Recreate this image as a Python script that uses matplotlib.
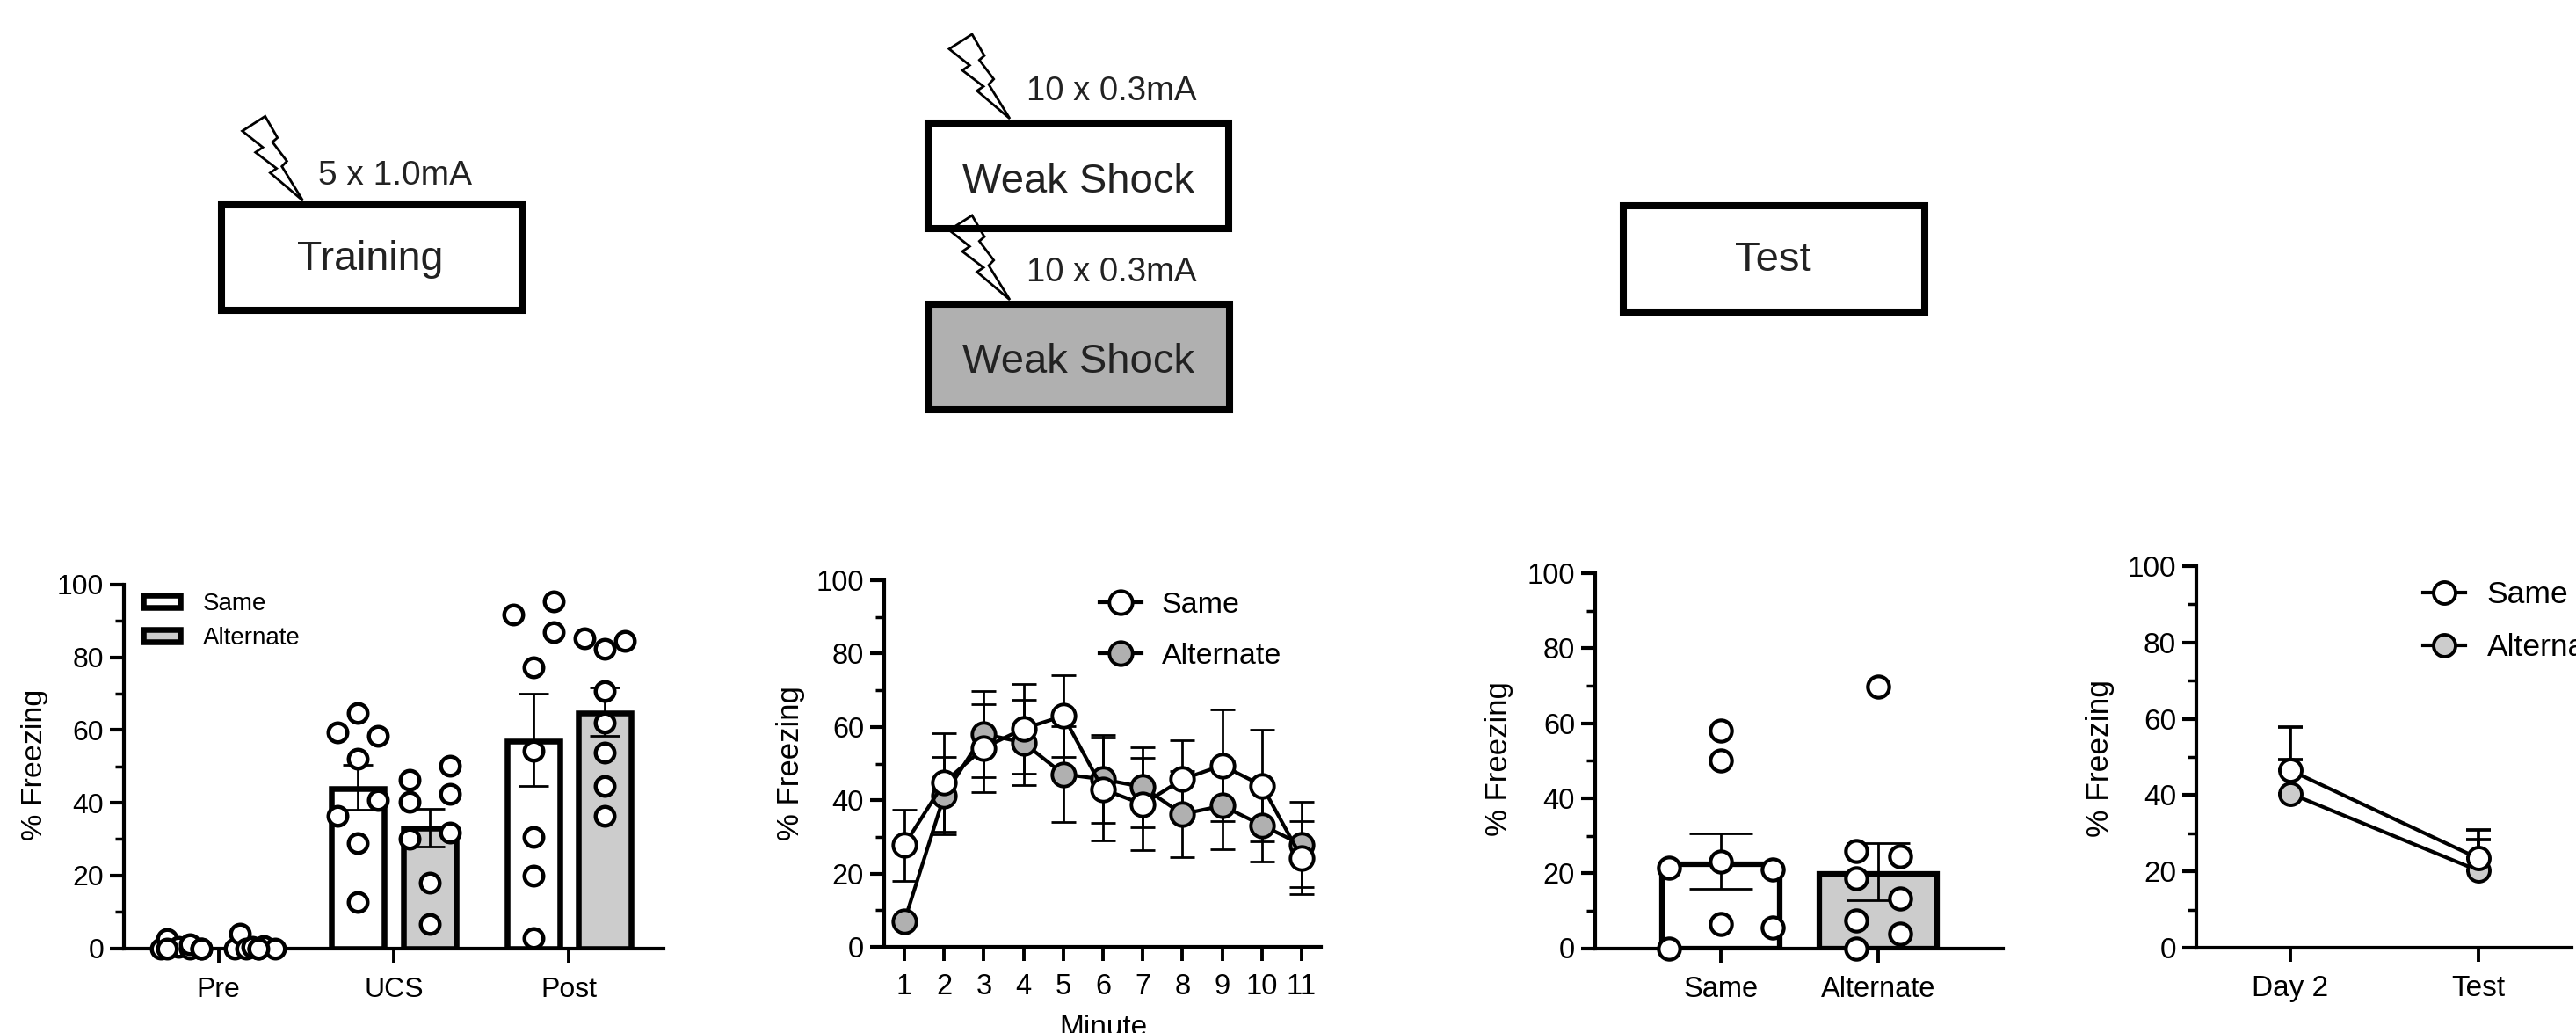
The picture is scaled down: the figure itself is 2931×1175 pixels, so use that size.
import matplotlib
matplotlib.use("Agg")
import matplotlib.pyplot as plt
from matplotlib.patches import Patch, Polygon, Rectangle

plt.rcParams["font.family"] = ["Liberation Sans", "DejaVu Sans"]

W = 2931
H = 1175

# training panel: pre / ucs / post
groups_train = ["Pre", "UCS", "Post"]
train_same_means = [0.5, 43.8, 56.9]
train_alt_means = [0.5, 32.9, 64.6]
train_same_up = [0, 50.4, 70.1]
train_same_low = [0, 38.0, 44.7]
train_alt_up = [0, 38.4, 71.6]
train_alt_low = [0, 28.0, 58.3]

pre_same = [0, 2.6, 0.4, 0, 1.0, 0, 0, 0]
pre_same_jit = [-0.125, -0.087, -0.023, 0.041, 0.041, 0.105, 0.105, -0.087]
pre_alt = [0, 3.9, 0, 0.4, 0, 0.5, 0, 0]
pre_alt_jit = [-0.11, -0.079, -0.046, -0.013, 0.026, 0.056, 0.12, 0.026]
ucs_same = [64.7, 59.3, 58.5, 52.2, 40.8, 36.3, 29.0, 12.6]
ucs_same_jit = [0, -0.115, 0.115, 0, 0.115, -0.115, 0, 0]
ucs_alt = [46.2, 50.2, 42.5, 40.2, 30.0, 31.7, 18.0, 6.7]
ucs_alt_jit = [-0.115, 0.115, 0.115, -0.115, -0.115, 0.115, 0, 0]
post_same = [91.8, 95.5, 87.0, 77.3, 54.2, 30.6, 19.9, 2.8]
post_same_jit = [-0.115, 0.115, 0.115, 0, 0, 0, 0, 0]
post_alt = [85.2, 84.6, 82.4, 70.7, 62.0, 53.8, 44.7, 36.4]
post_alt_jit = [-0.115, 0.115, 0, 0, 0, 0, 0, 0]

# weak shock panel
minutes = [1, 2, 3, 4, 5, 6, 7, 8, 9, 10, 11]
shock_same = [27.8, 44.8, 54.3, 59.5, 63.0, 43.0, 38.9, 45.7, 49.5, 44.0, 24.3]
shock_alt = [7.0, 41.2, 58.1, 55.7, 47.1, 45.7, 43.6, 36.2, 38.5, 33.2, 27.9]
shock_same_err = [9.7, 13.4, 12.0, 12.2, 11.2, 14.0, 12.6, 10.6, 15.2, 15.2, 10.0]
shock_alt_err = [0, 10.5, 11.7, 11.6, 13.0, 12.0, 10.9, 11.7, 12.0, 10.0, 11.7]

# test panel
groups_test = ["Same", "Alternate"]
test_means = [22.5, 19.8]
test_up = [30.6, 28.1]
test_low = [15.8, 12.7]
test_same = [21.4, 23.1, 21.0, 58.0, 50.1, 6.5, 5.4, 0]
test_same_jit = [-0.33, 0, 0.33, 0, 0, 0, 0.33, -0.33]
test_alt = [69.8, 26.0, 24.4, 18.7, 13.3, 7.5, 3.8, 0]
test_alt_jit = [0, -0.14, 0.14, -0.14, 0.14, -0.14, 0.14, -0.14]

# day 2 vs test panel
days = ["Day 2", "Test"]
day_same = [46.5, 23.4]
day_alt = [40.4, 20.2]
day_same_err = [11.4, 7.4]
day_alt_err = [9.0, 8.1]


def make_axes(left, top, right, bottom, xlim, ticks, labels, fs, pad):
    ax = fig.add_axes(
        [left / W, 1 - bottom / H, (right - left) / W, (bottom - top) / H]
    )
    ax.patch.set_visible(False)
    ax.set_xlim(*xlim)
    ax.set_ylim(0, 100)
    ax.spines["top"].set_visible(False)
    ax.spines["right"].set_visible(False)
    ax.spines["left"].set_linewidth(3)
    ax.spines["bottom"].set_linewidth(3)
    ax.set_xticks(ticks)
    ax.set_xticklabels(labels)
    ax.set_yticks([0, 20, 40, 60, 80, 100])
    ax.set_yticks([10, 30, 50, 70, 90], minor=True)
    ax.tick_params(axis="x", length=11.5, width=2.8, labelsize=fs, pad=pad)
    ax.tick_params(axis="y", length=11.5, width=3, labelsize=fs, pad=5)
    ax.tick_params(axis="y", which="minor", length=7, width=2.5)
    return ax


def points(ax, xs, ys, size, edge):
    ax.plot(
        xs,
        ys,
        "o",
        mfc="white",
        mec="black",
        ms=size,
        mew=edge,
        ls="none",
        clip_on=False,
        zorder=6,
    )


def bar_with_err(ax, x, mean, up, low, width, color, lw, cap):
    ax.bar(x, mean, width, color=color, edgecolor="black", linewidth=lw, zorder=2)
    ax.errorbar(
        x,
        mean,
        yerr=[[mean - low], [up - mean]],
        fmt="none",
        ecolor="black",
        elinewidth=2,
        capsize=cap,
        capthick=2,
        zorder=3,
    )


def bolt(dx, dy):
    shape_x = [80, 106, 120, 114.3, 130.7, 125, 149, 111.7, 119, 95, 103.3]
    shape_y = [35.7, 19, 43.3, 48.3, 70, 76, 115, 83.3, 78.3, 60, 54.3]
    pts = [(x + dx, y + dy) for x, y in zip(shape_x, shape_y)]
    overlay.add_patch(
        Polygon(pts, closed=True, fc="white", ec="black", lw=2, zorder=2)
    )


def box(x0, y0, x1, y1, color):
    overlay.add_patch(
        Rectangle((x0, y0), x1 - x0, y1 - y0, fc=color, ec="none", zorder=1)
    )
    overlay.add_patch(
        Rectangle((x0, y0), x1 - x0, y1 - y0, fc="none", ec="black", lw=5.8, zorder=3)
    )


fig = plt.figure(figsize=(W / 100, H / 100), dpi=100)
overlay = fig.add_axes([0, 0, 1, 1])
overlay.set_xlim(0, W)
overlay.set_ylim(H, 0)
overlay.axis("off")

# protocol boxes
bolt(195.7, 113.3)
bolt(1000, 20)
bolt(1000, 226)
box(252, 233, 594, 353, "white")
box(1056, 140, 1398, 260, "white")
box(1057, 346, 1399, 466, "#b0b0b0")
box(1847, 234, 2190, 355, "white")
box_text = "#222222"
overlay.text(421, 307, "Training", fontsize=33.5, ha="center", color=box_text, zorder=4)
overlay.text(1227, 219, "Weak Shock", fontsize=34, ha="center", color=box_text, zorder=4)
overlay.text(1227, 424, "Weak Shock", fontsize=34, ha="center", color=box_text, zorder=4)
overlay.text(2017, 308, "Test", fontsize=34, ha="center", color=box_text, zorder=4)
overlay.text(449, 210, "5 x 1.0mA", fontsize=28, ha="center", color=box_text, zorder=4)
overlay.text(1265, 114, "10 x 0.3mA", fontsize=27.5, ha="center", color=box_text, zorder=4)
overlay.text(1265, 320, "10 x 0.3mA", fontsize=27.5, ha="center", color=box_text, zorder=4)

# y labels and the clipped x label
for lx, ly, lfs in [(40, 870, 24.5), (900, 868, 25), (1706, 863, 25), (2389, 862, 25.5)]:
    overlay.text(lx, ly, "% Freezing", fontsize=lfs, rotation=90, ha="center", va="center")
overlay.text(1255, 1178, "Minute", fontsize=24, ha="center", va="baseline")

# panel 1
ax1 = make_axes(141, 665, 755, 1078.5, (0.461, 3.539), [1, 2, 3], groups_train, 23, 12)
sets_same = [pre_same, ucs_same, post_same]
sets_same_jit = [pre_same_jit, ucs_same_jit, post_same_jit]
sets_alt = [pre_alt, ucs_alt, post_alt]
sets_alt_jit = [pre_alt_jit, ucs_alt_jit, post_alt_jit]
for i in range(3):
    xs = i + 1 - 0.204
    xa = i + 1 + 0.204
    if i > 0:
        bar_with_err(ax1, xs, train_same_means[i], train_same_up[i], train_same_low[i], 0.3, "white", 4.7, 12)
        bar_with_err(ax1, xa, train_alt_means[i], train_alt_up[i], train_alt_low[i], 0.3, "#cccccc", 4.7, 12)
    points(ax1, [xs + j for j in sets_same_jit[i]], sets_same[i], 15.5, 3.2)
    points(ax1, [xa + j for j in sets_alt_jit[i]], sets_alt[i], 15.5, 3.2)
ax1.legend(
    handles=[
        Patch(fc="white", ec="black", lw=4.7, label="Same"),
        Patch(fc="#cccccc", ec="black", lw=4.7, label="Alternate"),
    ],
    loc="upper left",
    bbox_to_anchor=(163, 674),
    bbox_transform=overlay.transData,
    frameon=False,
    fontsize=20,
    borderpad=0,
    borderaxespad=0,
    handlelength=1.5,
    handleheight=0.43,
    handletextpad=0.95,
    labelspacing=0.47,
)

# panel 2
ax2 = make_axes(1006, 660, 1503, 1077, (0.491, 11.487), minutes, minutes, 23.5, 10)
for vals, errs in [(shock_alt, shock_alt_err), (shock_same, shock_same_err)]:
    ax2.errorbar(
        minutes,
        vals,
        yerr=errs,
        fmt="none",
        ecolor="black",
        elinewidth=2,
        capsize=10,
        capthick=2,
        zorder=3,
    )
line_alt, = ax2.plot(
    minutes, shock_alt, "-o", color="black", lw=3, mfc="#b0b0b0", mec="black",
    ms=19, mew=2.8, clip_on=False, zorder=4, label="Alternate",
)
line_same, = ax2.plot(
    minutes, shock_same, "-o", color="black", lw=3, mfc="white", mec="black",
    ms=19, mew=2.8, clip_on=False, zorder=5, label="Same",
)
ax2.legend(
    handles=[line_same, line_alt],
    loc="upper left",
    bbox_to_anchor=(1251, 673),
    bbox_transform=overlay.transData,
    frameon=False,
    fontsize=24.5,
    borderpad=0,
    borderaxespad=0,
    handlelength=1.41,
    handletextpad=0.67,
    labelspacing=0.8,
    numpoints=1,
)

# panel 3
ax3 = make_axes(1815, 652, 2279, 1078.5, (0.201, 2.793), [1, 2], groups_test, 23.5, 11)
bar_with_err(ax3, 1, test_means[0], test_up[0], test_low[0], 0.75, "white", 4.5, 25.7)
bar_with_err(ax3, 2, test_means[1], test_up[1], test_low[1], 0.75, "#cccccc", 4.5, 25.7)
points(ax3, [1 + j for j in test_same_jit], test_same, 17.5, 3)
points(ax3, [2 + j for j in test_alt_jit], test_alt, 17.5, 3)

# panel 4
ax4 = make_axes(2499, 644, 2926, 1078, (0.5, 2.495), [1, 2], days, 24, 11)
day_x = [1, 2]
for vals, errs in [(day_alt, day_alt_err), (day_same, day_same_err)]:
    ax4.errorbar(
        day_x,
        vals,
        yerr=[[0, 0], errs],
        fmt="none",
        ecolor="black",
        elinewidth=2.7,
        capsize=10,
        capthick=2.7,
        zorder=3,
    )
line_alt4, = ax4.plot(
    day_x, day_alt, "-o", color="black", lw=3, mfc="#cccccc", mec="black",
    ms=18, mew=2.8, clip_on=False, zorder=4, label="Alternate",
)
line_same4, = ax4.plot(
    day_x, day_same, "-o", color="black", lw=3, mfc="white", mec="black",
    ms=18, mew=2.8, clip_on=False, zorder=5, label="Same",
)
ax4.legend(
    handles=[line_same4, line_alt4],
    loc="upper left",
    bbox_to_anchor=(2757, 660),
    bbox_transform=overlay.transData,
    frameon=False,
    fontsize=25.5,
    borderpad=0,
    borderaxespad=0,
    handlelength=1.35,
    handletextpad=0.7,
    labelspacing=0.76,
    numpoints=1,
)

fig.savefig("out.png", dpi=100)
